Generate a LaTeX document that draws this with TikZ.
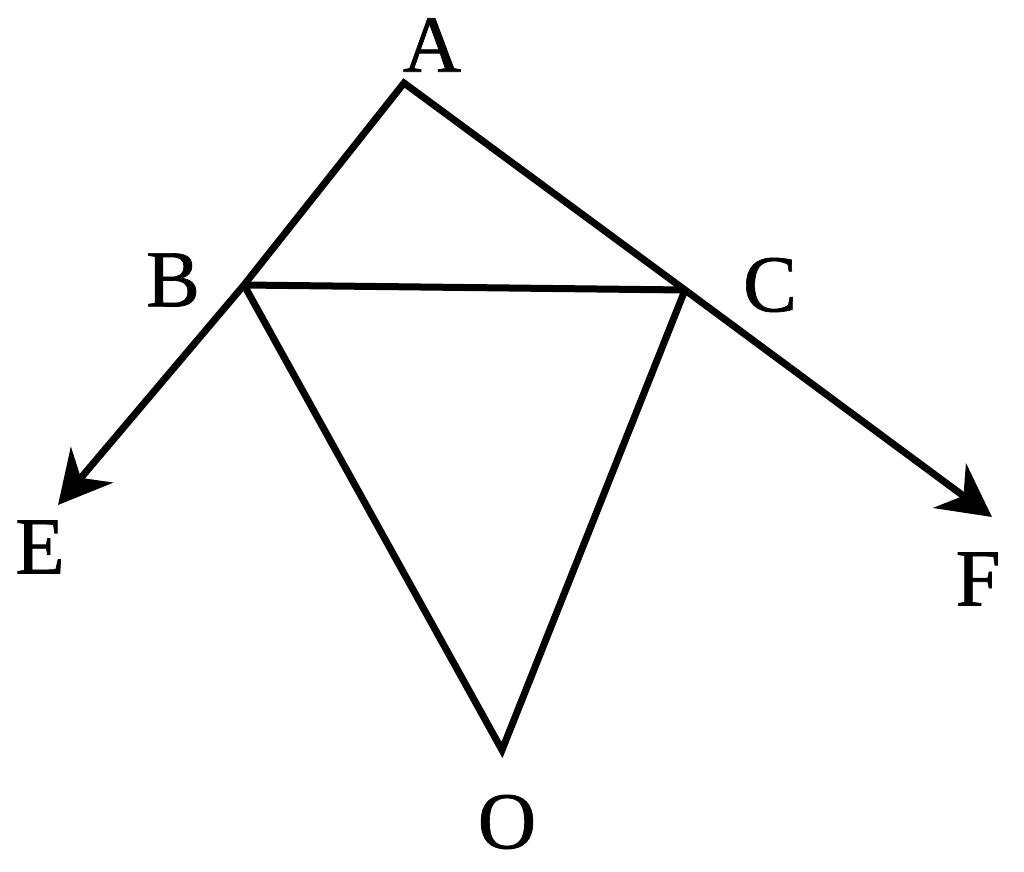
\documentclass[tikz,border=0pt]{standalone}
\usepackage{fontspec}
\setmainfont{Liberation Serif}
\newfontfamily\labfont[FakeBold=0.8]{Liberation Serif}
\usetikzlibrary{arrows.meta}
\begin{document}
\begin{tikzpicture}[
  edge/.style={line width=0.14cm, line join=miter, black},
  arr/.style={edge, -{Stealth[length=1.05cm, width=1.1cm, inset=0.34cm]}},
  lab/.style={font=\labfont\fontsize{46}{46}\selectfont, inner sep=0pt}
]
\useasboundingbox (0,0) rectangle (20.48,-17.44);
\coordinate (A) at (8.08,-1.66);
\coordinate (B) at (4.88,-5.70);
\coordinate (C) at (13.70,-5.80);
\coordinate (O) at (10.04,-15.0);
\coordinate (E) at (1.16,-10.10);
\coordinate (F) at (19.84,-10.34);
\draw[edge] (B) -- (A) -- (C);
\draw[edge] (B) -- (C);
\draw[edge] (B) -- (O) -- (C);
\draw[arr] (B) -- (E);
\draw[arr] (C) -- (F);
\node[lab] (lA) at (8.64,-0.9) {A};
\node[lab] (lB) at (3.46,-5.6) {B};
\node[lab] (lC) at (15.4,-5.7) {C};
\node[lab] (lE) at (0.8,-10.94) {E};
\node[lab] (lF) at (19.56,-11.58) {F};
\node[lab] (lO) at (10.14,-16.44) {O};
\end{tikzpicture}
\end{document}
